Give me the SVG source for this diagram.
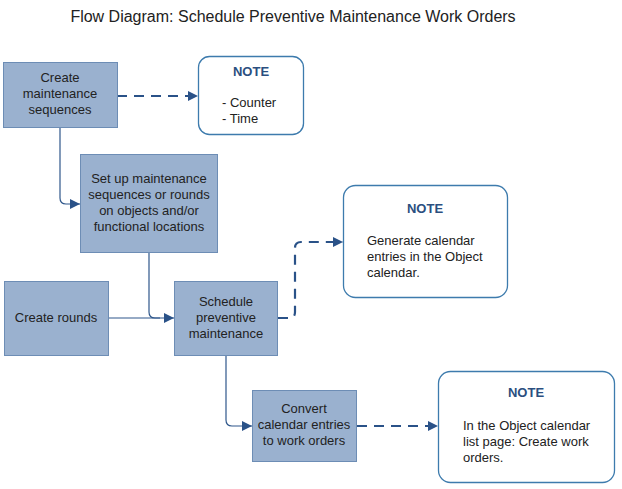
<svg xmlns="http://www.w3.org/2000/svg" width="622" height="489" viewBox="0 0 622 489">
<defs>
<style>
.box{fill:#9ab1cf;stroke:#6d8db5;stroke-width:1}
.note{fill:#fff;stroke:#3d7bad;stroke-width:1.3}
.t{font-family:"Liberation Sans",Arial,sans-serif;font-size:13px;fill:#222}
.c{text-anchor:middle}
.nt{font-family:"Liberation Sans",Arial,sans-serif;font-size:13px;font-weight:bold;fill:#2b4f80;text-anchor:middle}
.ln{fill:none;stroke:#2f578b;stroke-width:1.2}
.dl{fill:none;stroke:#2a5288;stroke-width:2.2;stroke-dasharray:10,7}
</style>
<marker id="ah" viewBox="0 0 10 10" refX="10" refY="5" markerWidth="10" markerHeight="10" markerUnits="userSpaceOnUse" orient="auto">
<path d="M0,0 L10,5 L0,10 z" fill="#2a5288"/>
</marker>
</defs>
<rect width="622" height="489" fill="#fff"/>
<text x="293" y="22" font-family="'Liberation Sans',Arial,sans-serif" font-size="16" fill="#222" text-anchor="middle">Flow Diagram: Schedule Preventive Maintenance Work Orders</text>
<g id="connectors">
<path class="dl" d="M117,96 H198" marker-end="url(#ah)"/>
<path class="ln" d="M60,127 V198 Q60,204 66,204 H80" marker-end="url(#ah)"/>
<path class="ln" d="M108,318 H174" marker-end="url(#ah)"/>
<path class="ln" d="M149,253 V312 Q149,318 155,318 H160"/>
<path class="dl" d="M278,318 H290 Q295,318 295,312 V248 Q295,242 301,242 H343" marker-end="url(#ah)"/>
<path class="ln" d="M226,356 V420 Q226,426 232,426 H252" marker-end="url(#ah)"/>
<path class="dl" d="M357,426 H438" marker-end="url(#ah)"/>
</g>
<g id="n1">
<rect class="box" x="3.5" y="62.5" width="114" height="65"/>
<text class="t c" x="60" y="82">Create</text>
<text class="t c" x="60" y="98">maintenance</text>
<text class="t c" x="60" y="114">sequences</text>
</g>
<g id="note1">
<rect class="note" x="198.5" y="56.5" width="105" height="78" rx="11"/>
<text class="nt" x="251" y="76">NOTE</text>
<text class="t" x="222" y="107">- Counter</text>
<text class="t" x="222" y="123">- Time</text>
</g>
<g id="n2">
<rect class="box" x="80.5" y="154.5" width="137" height="98"/>
<text class="t c" x="149" y="183">Set up maintenance</text>
<text class="t c" x="149" y="199">sequences or rounds</text>
<text class="t c" x="149" y="215">on objects and/or</text>
<text class="t c" x="149" y="231">functional locations</text>
</g>
<g id="n3">
<rect class="box" x="4.5" y="281.5" width="104" height="74"/>
<text class="t c" x="56" y="322">Create rounds</text>
</g>
<g id="n4">
<rect class="box" x="174.5" y="281.5" width="103" height="74"/>
<text class="t c" x="226" y="306">Schedule</text>
<text class="t c" x="226" y="322">preventive</text>
<text class="t c" x="226" y="338">maintenance</text>
</g>
<g id="note2">
<rect class="note" x="343.5" y="185.5" width="164" height="112" rx="12"/>
<text class="nt" x="425" y="213">NOTE</text>
<text class="t" x="367" y="245">Generate calendar</text>
<text class="t" x="367" y="261">entries in the Object</text>
<text class="t" x="367" y="277">calendar.</text>
</g>
<g id="n5">
<rect class="box" x="252.5" y="390.5" width="104" height="71"/>
<text class="t c" x="304" y="413">Convert</text>
<text class="t c" x="304" y="429">calendar entries</text>
<text class="t c" x="304" y="445">to work orders</text>
</g>
<g id="note3">
<rect class="note" x="438.5" y="371.5" width="176" height="111" rx="12"/>
<text class="nt" x="526" y="397">NOTE</text>
<text class="t" x="463" y="430">In the Object calendar</text>
<text class="t" x="463" y="446">list page: Create work</text>
<text class="t" x="463" y="462">orders.</text>
</g>
</svg>
